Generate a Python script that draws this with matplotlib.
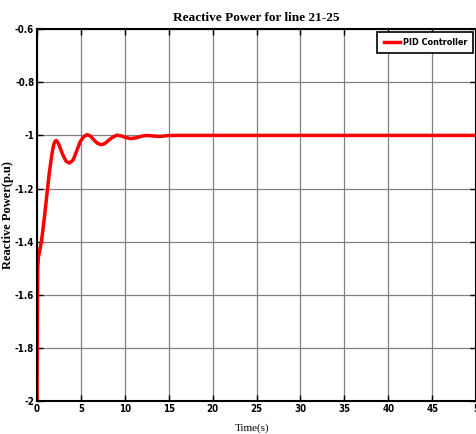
import matplotlib
matplotlib.use("Agg")
import matplotlib.pyplot as plt

# values
t = [0, 0.03, 0.08, 0.15, 0.5, 0.8, 1.1, 1.4, 1.7, 1.9, 2.05, 2.2, 2.35,
     2.5, 2.9, 3.3, 3.7, 4.1, 4.5, 4.9, 5.3, 5.7, 6.1, 6.5, 6.9, 7.3, 7.7,
     8.1, 8.6, 9.1, 9.6, 10.1, 10.7, 11.3, 11.9, 12.5, 13.2, 14.0, 14.8,
     15.5, 50]
q = [-2.0, -1.75, -1.5, -1.46, -1.40, -1.32, -1.23, -1.14, -1.07, -1.035,
     -1.022, -1.019, -1.025, -1.035, -1.07, -1.097, -1.104, -1.093, -1.06,
     -1.025, -1.005, -0.997, -1.003, -1.018, -1.03, -1.035, -1.031, -1.02,
     -1.007, -0.999, -1.002, -1.008, -1.012, -1.009, -1.003, -1.0, -1.002,
     -1.004, -1.001, -1.0, -1.0]

xticks = [0, 5, 10, 15, 20, 25, 30, 35, 40, 45, 50]
xticklabels = ['0', '5', '10', '15', '20', '25', '30', '35', '40', '45', '5']
yticks = [-2, -1.8, -1.6, -1.4, -1.2, -1, -0.8, -0.6]
yticklabels = ['-2', '-1.8', '-1.6', '-1.4', '-1.2', '-1', '-0.8', '-0.6']

serif = ['Liberation Serif', 'DejaVu Serif']
tickfont = {'family': 'DejaVu Sans', 'stretch': 'condensed', 'weight': 'bold', 'size': 7}

fig = plt.figure(figsize=(4.77, 4.34), dpi=100)
ax = fig.add_axes([0.0776, 0.0749, 0.9204, 0.8583])

ax.plot(t, q, color='red', linewidth=2.5, label='PID Controller')

ax.set_xlim(0, 50)
ax.set_ylim(-2, -0.6)
ax.set_xticks(xticks)
ax.set_xticklabels(xticklabels, fontdict=tickfont)
ax.set_yticks(yticks)
ax.set_yticklabels(yticklabels, fontdict=tickfont)
ax.tick_params(direction='in', length=4, width=1, pad=2, right=True, top=True)
ax.grid(True, color='#808080', linewidth=0.9)

for s in ax.spines.values():
    s.set_linewidth(1.5)

ax.set_title('Reactive Power for line 21-25', fontfamily=serif,
             fontweight='bold', fontsize=9.5, pad=6)
ax.set_xlabel('Time(s)', fontfamily=serif, fontsize=8)
ax.xaxis.set_label_coords(0.49, -0.058)
ax.set_ylabel('Reactive Power(p.u)', fontfamily=serif, fontweight='bold',
              fontsize=9)
ax.yaxis.set_label_coords(-0.052, 0.5)

leg = ax.legend(loc='upper right',
                prop={'family': 'DejaVu Sans', 'stretch': 'condensed',
                      'weight': 'bold', 'size': 6.5},
                fancybox=False, framealpha=1, edgecolor='black',
                handlelength=1.8, handletextpad=0.3, borderpad=0.7,
                borderaxespad=0.3)
leg.get_frame().set_linewidth(1.2)

fig.savefig('out.png', dpi=100)
